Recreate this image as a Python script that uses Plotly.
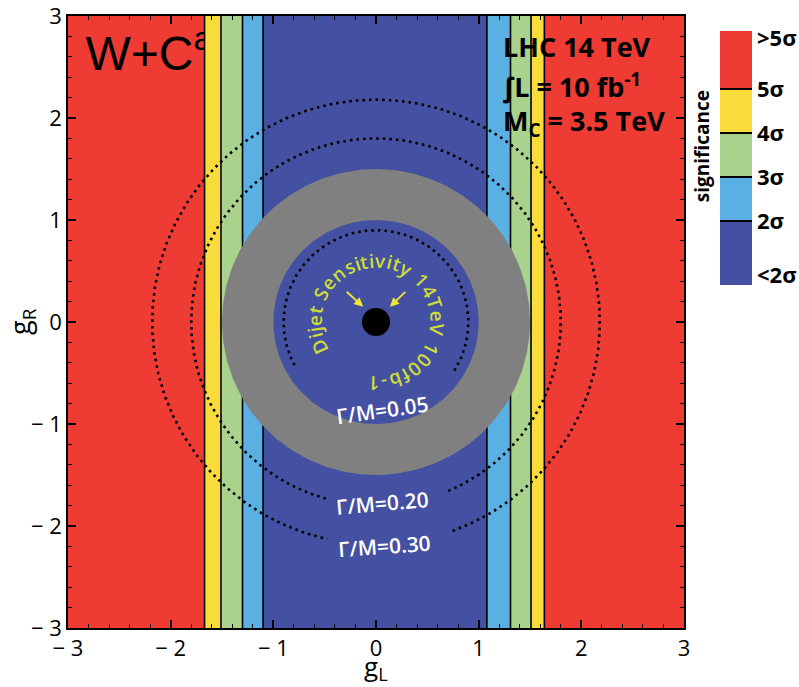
import numpy as np
import plotly.graph_objects as go

# ---------------- data ----------------
band_edges = [-3.0, -1.67, -1.51, -1.30, -1.10, 1.08, 1.31, 1.51, 1.64, 3.0]
band_level = [4, 3, 2, 1, 0, 1, 2, 3, 4]          # index into sig_colors
sig_colors = ["#4450a1", "#5ab0e2", "#a9d38d", "#f9db3c", "#ee3b34"]
sig_edges = [0.545, 2, 3, 4, 5, 6.318]            # colour-key band edges (sigma)
sig_tickvals = [0.77, 2, 3, 4, 5, 6.16]
sig_ticktext = ["<2σ", "2σ", "3σ", "4σ", "5σ", ">5σ"]

dijet_radii = [1.5, 1.0]                           # grey annulus outer / inner
gm_labels = ["Γ/M=0.05", "Γ/M=0.20", "Γ/M=0.30"]
gm_radii = [0.90, 1.80, 2.18]
gm_arc_from = [-32, -67, -70]                      # dotted arc start (deg)
gm_arc_to = [210, 255, 257.4]                      # dotted arc end (deg)
gm_label_x = [0.06, 0.063, 0.078]
gm_label_y = [-0.86, -1.775, -2.20]
gm_label_rot = [-8, -5, -4]
best_fit = [0.0, 0.0]

ticks = [-3, -2, -1, 0, 1, 2, 3]
tick_text = ["− 3", "− 2", "− 1", "0", "1", "2", "3"]

dijet_text = "Dijet Sensitivity 14TeV 100fb-1"

# ---------------- figure ----------------
fig = go.Figure()
base_font = "Open Sans"

def band_trace(i):
    x0, x1 = band_edges[i], band_edges[i + 1]
    return go.Scatter(x=[x0, x1, x1, x0, x0], y=[-3, -3, 3, 3, -3], mode="lines",
                      fill="toself", fillcolor=sig_colors[band_level[i]],
                      line=dict(width=0), hoverinfo="skip", showlegend=False)

# red bands first
for i, lv in enumerate(band_level):
    if lv == 4:
        fig.add_trace(band_trace(i))

# W+C^a label (under the yellow band)
fig.add_trace(go.Scatter(x=[-2.83], y=[2.59], mode="text", text=["W+C<sup>a</sup>"],
                         textposition="middle right",
                         textfont=dict(family="Liberation Sans", size=48, color="black"),
                         hoverinfo="skip", showlegend=False))

for i, lv in enumerate(band_level):
    if lv != 4:
        fig.add_trace(band_trace(i))

# boundary lines
for xe in band_edges[1:-1]:
    fig.add_trace(go.Scatter(x=[xe, xe], y=[-3, 3], mode="lines",
                             line=dict(color="black", width=1.6),
                             hoverinfo="skip", showlegend=False))

# grey annulus (dijet exclusion)
t = np.linspace(0, 2 * np.pi, 361)
for r, c in zip(dijet_radii, ["#808080", sig_colors[0]]):
    fig.add_trace(go.Scatter(x=r * np.cos(t), y=r * np.sin(t), mode="lines",
                             fill="toself", fillcolor=c, line=dict(width=0),
                             hoverinfo="skip", showlegend=False))

# dotted width contours
for r, a0, a1 in zip(gm_radii, gm_arc_from, gm_arc_to):
    a = np.radians(np.linspace(a0, a1, 400))
    fig.add_trace(go.Scatter(x=r * np.cos(a), y=r * np.sin(a), mode="lines",
                             line=dict(color="black", width=2.6, dash="2.6px,4px"),
                             hoverinfo="skip", showlegend=False))

# best point
fig.add_trace(go.Scatter(x=[best_fit[0]], y=[best_fit[1]], mode="markers",
                         marker=dict(size=28, color="black"),
                         hoverinfo="skip", showlegend=False))

# colour key
for k in range(len(sig_colors)):
    fig.add_trace(go.Bar(x=[0.5], y=[sig_edges[k + 1] - sig_edges[k]], base=[sig_edges[k]],
                         width=[1.0], marker=dict(color=sig_colors[k], line=dict(width=0)),
                         xaxis="x2", yaxis="y2", hoverinfo="skip", showlegend=False))
for s in sig_edges[1:-1]:
    fig.add_trace(go.Scatter(x=[0, 1], y=[s, s], mode="lines", line=dict(color="black", width=2),
                             xaxis="x2", yaxis="y2", hoverinfo="skip", showlegend=False))

ann = []
# curved dijet text
wd = {"D": .72, "i": .26, "j": .26, "e": .56, "t": .36, " ": .27, "S": .55, "n": .61,
      "s": .48, "v": .52, "y": .52, "1": .57, "4": .57, "T": .56, "V": .62, "0": .57,
      "f": .35, "b": .61, "-": .33}
th0, th1, rt = 212.0, -98.0, 0.60
tot = sum(wd[c] for c in dijet_text)
kk = (th0 - th1) / tot
cum = 0.0
for ch in dijet_text:
    w = wd[ch]
    ang = th0 - (cum + w / 2) * kk
    cum += w
    if ch == " ":
        continue
    ta = 90 - ang
    while ta > 180:
        ta -= 360
    while ta <= -180:
        ta += 360
    ann.append(dict(x=rt * np.cos(np.radians(ang)), y=rt * np.sin(np.radians(ang)),
                    xref="x", yref="y", text=ch, showarrow=False, textangle=ta,
                    font=dict(family=base_font, size=19, color="#cddc38", weight=600),
                    xanchor="center", yanchor="middle"))

# arrows
for (tx, ty, hx, hy) in [(-0.30, 0.31, -0.125, 0.15), (0.30, 0.31, 0.136, 0.15)]:
    ann.append(dict(x=hx, y=hy, ax=tx, ay=ty, axref="x", ayref="y", xref="x", yref="y",
                    text="", showarrow=True, arrowhead=2, arrowsize=1, arrowwidth=1.8,
                    arrowcolor="#f3e72f"))

for lab, lx, ly, rot in zip(gm_labels, gm_label_x, gm_label_y, gm_label_rot):
    ann.append(dict(x=lx, y=ly, xref="x", yref="y", text=lab, showarrow=False, textangle=rot,
                    font=dict(family=base_font, size=21, color="white", weight=600)))

for txt, yy in zip(["LHC 14 TeV", "∫L = 10 fb<sup>-1</sup>", "M<sub>C</sub> = 3.5 TeV"],
                   [2.70, 2.32, 1.96]):
    ann.append(dict(x=1.215, y=yy, xref="x", yref="y", text=txt, showarrow=False,
                    xanchor="left", yanchor="middle",
                    font=dict(family=base_font, size=27, color="black", weight="bold")))

ann.append(dict(x=-0.56, y=0.547, xref="x2 domain", yref="y2 domain", text="significance",
                showarrow=False, textangle=-90, xanchor="center", yanchor="middle",
                font=dict(family=base_font, size=19, color="black", weight="bold")))

# axis titles
ann.append(dict(x=(376 - 68) / 691, y=-(687 - 628) / 612, xref="paper", yref="paper",
                text="g<sub>L</sub>", showarrow=False, xanchor="center", yanchor="bottom",
                borderpad=0, font=dict(family=base_font, size=26, color="black")))
ann.append(dict(x=(21 - 68) / 691, y=0.5, xref="paper", yref="paper", textangle=-90,
                text="g<sub>R</sub>", showarrow=False, xanchor="center", yanchor="middle",
                font=dict(family=base_font, size=27, color="black")))

axis_common = dict(range=[-3, 3], showline=True, linecolor="black", linewidth=1.6,
                   mirror="allticks", ticks="inside", ticklen=8, tickwidth=1.5,
                   tickcolor="black", tickvals=ticks, ticktext=tick_text,
                   tickfont=dict(family=base_font, size=22, color="black"),
                   ticklabeloverflow="allow",
                   minor=dict(dtick=0.2, tick0=0, ticks="inside", ticklen=4.5, tickwidth=1.2,
                              tickcolor="black"),
                   showgrid=False, zeroline=False, fixedrange=True, automargin=False)

fig.update_layout(
    width=799, height=687, autosize=False,
    margin=dict(l=68, r=40, t=16, b=59, autoexpand=False),
    paper_bgcolor="white", plot_bgcolor="white",
    showlegend=False, barmode="overlay",
    xaxis=dict(domain=[0, 616 / 691], **axis_common),
    yaxis=dict(domain=[0, 1], **axis_common),
    xaxis2=dict(domain=[(720 - 68) / 691, (752 - 68) / 691], range=[0, 1], anchor="y2",
                showticklabels=False, showgrid=False, zeroline=False, showline=False,
                ticks="", fixedrange=True, automargin=False),
    yaxis2=dict(domain=[1 - (285 - 16) / 612, 1 - (31 - 16) / 612], range=[sig_edges[0], sig_edges[-1]],
                anchor="x2", side="right", tickvals=sig_tickvals, ticktext=sig_ticktext,
                ticklabelstandoff=4,
                tickfont=dict(family=base_font, size=22, color="black", weight="bold"),
                showgrid=False, zeroline=False, showline=False, ticks="", fixedrange=True,
                automargin=False),
    annotations=ann,
)

fig.write_html("out.html")
